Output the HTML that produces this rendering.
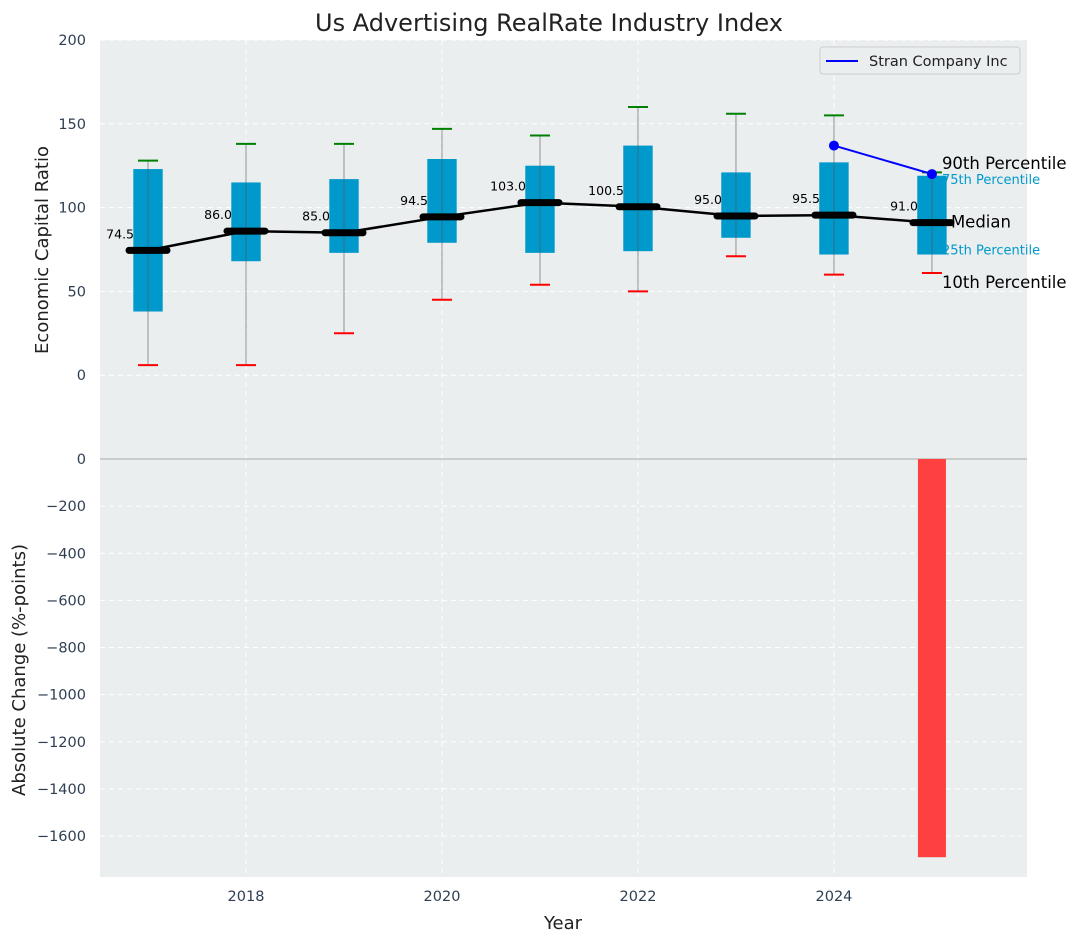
<!DOCTYPE html>
<html><head><meta charset="utf-8"><style>
body{margin:0;background:#fff;font-family:"Liberation Sans","DejaVu Sans",sans-serif}
svg text{font-family:"DejaVu Sans","Liberation Sans",sans-serif}
</style></head><body>
<svg id="c" width="1077" height="942" xmlns="http://www.w3.org/2000/svg"></svg>
<script>
const years=[2017,2018,2019,2020,2021,2022,2023,2024,2025];
const p10=[6,6,25,45,54,50,71,60,61];
const p25=[38,68,73,79,73,74,82,72,72];
const med=[74.5,86,85,94.5,103,100.5,95,95.5,91];
const p75=[123,115,117,129,125,137,121,127,119];
const p90=[128,138,138,147,143,160,156,155,121];
const compYears=[2024,2025];
const compVals=[137,120];
const chgYears=[2025];
const chgVals=[-1690];
const topTicks=[0,50,100,150,200];
const botTicks=[0,-200,-400,-600,-800,-1000,-1200,-1400,-1600];
const xTicks=[2018,2020,2022,2024];

const svg=document.getElementById('c');const NS='http://www.w3.org/2000/svg';
function el(t,a,p){const e=document.createElementNS(NS,t);for(const k in a)e.setAttribute(k,a[k]);(p||svg).appendChild(e);return e;}
const L=100,R=1027,T1=40,B1=459,T2=459,B2=877;
const x=v=>L+(v-2016.51)/(2025.97-2016.51)*(R-L);
const y1=v=>T1+(200-v)/(200-(-50))*(B1-T1);
const y2=v=>T2+(0-v)/(0-(-1774))*(B2-T2);
const fmt=v=>String(v).replace('-','\u2212');
let r=el('rect',{x:L,y:T1,width:R-L,height:B1-T1,fill:'#eaeeef'});
r=el('rect',{x:L,y:T2,width:R-L,height:B2-T2,fill:'#eaeeef'});
topTicks.forEach(v=>{el('line',{x1:L,x2:R,y1:y1(v),y2:y1(v),stroke:'#fff','stroke-dasharray':'5,4','stroke-width':1});
 let t=el('text',{x:L-14,y:y1(v)+5,'text-anchor':'end','font-size':14.5,fill:'#2e3f52'});t.textContent=fmt(v);
 });
botTicks.forEach(v=>{el('line',{x1:L,x2:R,y1:y2(v),y2:y2(v),stroke:'#fff','stroke-dasharray':'5,4','stroke-width':1});
 let t=el('text',{x:L-14,y:y2(v)+5,'text-anchor':'end','font-size':14.5,fill:'#2e3f52'});t.textContent=fmt(v);
 });
xTicks.forEach(v=>{el('line',{x1:x(v),x2:x(v),y1:T1,y2:B2,stroke:'#fff','stroke-dasharray':'5,4'});
 let t=el('text',{x:x(v),y:B2+24,'text-anchor':'middle','font-size':14.5,fill:'#2e3f52'});t.textContent=v;
 });
el('line',{x1:L,x2:R,y1:y2(0),y2:y2(0),stroke:'#aaa','stroke-width':1});
const hw=(x(2017.15)-x(2017));
years.forEach((yr,i)=>{const cx=x(yr);
 let b=el('rect',{x:cx-hw,y:y1(p75[i]),width:2*hw,height:y1(p25[i])-y1(p75[i]),fill:'#0099cc'});
 
 el('line',{x1:cx,x2:cx,y1:y1(p90[i]),y2:y1(p10[i]),stroke:'#555','stroke-opacity':0.6,'stroke-width':1});
 el('line',{x1:cx-10,x2:cx+10,y1:y1(p90[i]),y2:y1(p90[i]),stroke:'green','stroke-width':2});
 el('line',{x1:cx-10,x2:cx+10,y1:y1(p10[i]),y2:y1(p10[i]),stroke:'red','stroke-width':2});
});
let pl=el('polyline',{points:years.map((yr,i)=>x(yr)+','+y1(med[i])).join(' '),fill:'none',stroke:'#000','stroke-width':2.5});

years.forEach((yr,i)=>{const cx=x(yr);
 el('line',{x1:cx-19,x2:cx+19,y1:y1(med[i]),y2:y1(med[i]),stroke:'#000','stroke-width':7,'stroke-linecap':'round'});
 let t=el('text',{x:cx-14,y:y1(med[i])-12,'text-anchor':'end','font-size':12.5,fill:'#000'});t.textContent=med[i].toFixed(1);
 });
let cl=el('polyline',{points:compYears.map((yr,i)=>x(yr)+','+y1(compVals[i])).join(' '),fill:'none',stroke:'#0000ff','stroke-width':2});

compYears.forEach((yr,i)=>{let c=el('circle',{cx:x(yr),cy:y1(compVals[i]),r:5,fill:'#0000ff'});});
const lastI=years.length-1, ax=x(years[lastI])+10;
[['75th Percentile',p75[lastI],13,'#0099cc',3],['25th Percentile',p25[lastI],13,'#0099cc',-5],['90th Percentile',p90[lastI]+2,16.5,'#000',-5],['Median',med[lastI],16.5,'#000',0],['10th Percentile',p10[lastI],16.5,'#000',10]].forEach(a=>{
 let t=el('text',{x:ax+(a[0]=='Median'?9:0),y:y1(a[1])+a[4]+5,'font-size':a[2],fill:a[3]});t.textContent=a[0];
 });
chgYears.forEach((yr,i)=>{const v=chgVals[i];let b=el('rect',{x:x(yr)-14,y:y2(Math.max(0,v)),width:28,height:Math.abs(y2(v)-y2(0)),fill:'#ff4040'});
 });
let t=el('text',{x:549,y:31,'text-anchor':'middle','font-size':24,fill:'#222'});t.textContent='Us Advertising RealRate Industry Index';
t=el('text',{x:563,y:929,'text-anchor':'middle','font-size':18,fill:'#222'});t.textContent='Year';
t=el('text',{x:0,y:0,'text-anchor':'middle','font-size':18,fill:'#222',transform:'translate(48,250) rotate(-90)'});t.textContent='Economic Capital Ratio';
t=el('text',{x:0,y:0,'text-anchor':'middle','font-size':18,fill:'#222',transform:'translate(25,670) rotate(-90)'});t.textContent='Absolute Change (%-points)';
let g=el('g',{});
el('rect',{x:820,y:47,width:200,height:27,rx:3,fill:'#eaeeef',stroke:'#ccc'},g);
el('line',{x1:826,x2:858,y1:61,y2:61,stroke:'#0000ff','stroke-width':2},g);
t=el('text',{x:869,y:66,'font-size':14.5,fill:'#222'},g);t.textContent='Stran Company Inc';
</script>
</body></html>
